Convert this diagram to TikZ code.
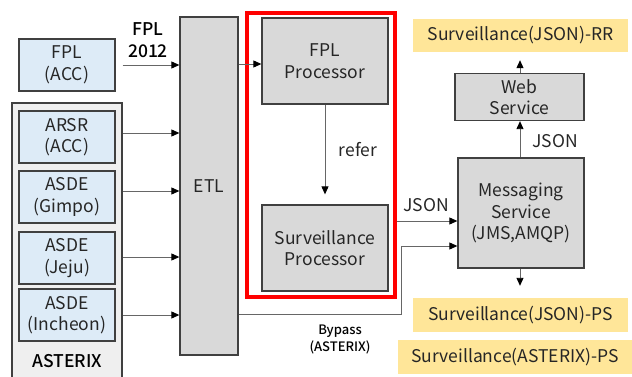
\documentclass[tikz,border=0pt]{standalone}
\usepackage{fontspec}
\setmainfont{Noto Sans CJK KR}
\newfontfamily\heavyfont{Noto Sans CJK KR Medium}
\usetikzlibrary{arrows.meta}
\definecolor{boxblue}{HTML}{DDEBF7}
\definecolor{boxgrey}{HTML}{D9D9D9}
\definecolor{groupgrey}{HTML}{EFEFEF}
\definecolor{outyellow}{HTML}{FFE699}
\definecolor{edge}{HTML}{404040}
\definecolor{wire}{HTML}{666666}
\begin{document}
\begin{tikzpicture}[x=1pt,y=-1pt,
  txt/.style={font=\fontsize{17.5}{21.5}\selectfont, align=center, inner sep=0pt, text=black!85},
  src/.style={txt, draw=edge, line width=1.3pt, fill=boxblue, minimum width=96pt, minimum height=52pt},
  proc/.style={txt, draw=edge, line width=1.3pt, fill=boxgrey},
  outbox/.style={txt, fill=outyellow, minimum height=34pt},
  lbl/.style={txt},
  strong/.style={txt, text=black, font=\heavyfont\fontsize{17.5}{21.5}\selectfont},
  arr/.style={draw=wire, line width=0.9pt, -{Triangle[length=8pt,width=7pt,color=black]}}]
\useasboundingbox (0,0) rectangle (632,376);

% ASTERIX sources group
\node[draw=edge, line width=1.3pt, fill=groupgrey, minimum width=110pt, minimum height=280pt, inner sep=0pt] (grp) at (67,243) {};
\node[strong] (astx) at (67,361) {ASTERIX};

% source boxes
\node[src] (fplacc) at (67,65) {FPL\\(ACC)};
\node[src] (arsr) at (67,137) {ARSR\\(ACC)};
\node[src] (gimpo) at (67,197) {ASDE\\(Gimpo)};
\node[src] (jeju) at (67,258) {ASDE\\(Jeju)};
\node[src] (inch) at (67,315) {ASDE\\(Incheon)};

% ETL
\node[proc, minimum width=58pt, minimum height=338pt] (etl) at (209,186) {ETL};
\node[strong] (fpl2012) at (148,40) {FPL\\2012};

% processors inside the red frame
\node[draw=red, line width=3.5pt, minimum width=148pt, minimum height=284pt, inner sep=0pt] (core) at (321,155) {};
\node[proc, minimum width=126pt, minimum height=86pt] (fplp) at (325,61) {FPL\\Processor};
\node[proc, minimum width=126pt, minimum height=86pt] (survp) at (325,248) {Surveillance\\Processor};
\node[lbl] (refer) at (358,150) {refer};

% services
\node[proc, minimum width=126pt, minimum height=110pt] (msg) at (521,213) {Messaging\\Service\\(JMS,AMQP)};
\node[proc, minimum width=129pt, minimum height=47pt] (web) at (519.5,97) {Web\\Service};

% outputs
\node[outbox, minimum width=215pt, minimum height=33pt] (rr) at (520.5,35.5) {Surveillance(JSON)-RR};
\node[outbox, minimum width=215pt] (ps) at (520.5,315) {Surveillance(JSON)-PS};
\node[outbox, minimum width=234pt] (aps) at (515,357) {Surveillance(ASTERIX)-PS};

% labels on connectors
\node[lbl] (json1) at (426,205) {JSON};
\node[lbl] (json2) at (555,141) {JSON};
\node[strong, font=\heavyfont\fontsize{13}{17}\selectfont] (bypass) at (340,339) {Bypass\\(ASTERIX)};

% connectors into ETL
\draw[arr] (grp.east |- fplacc) -- (etl.west |- fplacc);
\draw[arr] (grp.east |- 0,133) -- (etl.west |- 0,133);
\draw[arr] (grp.east |- 0,191) -- (etl.west |- 0,191);
\draw[arr] (grp.east |- 0,257) -- (etl.west |- 0,257);
\draw[arr] (grp.east |- 0,315) -- (etl.west |- 0,315);

% ETL to processors
\draw[arr] (etl.east |- 0,64) -- (fplp.west |- 0,64);
\draw[arr, shorten >=10pt] (fplp.south) -- (survp.north);

% to messaging
\draw[arr] (core.east |- 0,221) -- (msg.west |- 0,221);
\coordinate (bend) at (401,314);
\draw[arr] (etl.east |- bend) -- (bend) -- (bend |- 0,246) -- (msg.west |- 0,246);

% messaging outputs
\draw[arr] (msg.north -| 520,0) -- (web.south -| 520,0);
\draw[arr, shorten >=8pt] (web.north -| 520,0) -- (rr.south -| 520,0);
\draw[arr, shorten >=12pt] (msg.south -| 520,0) -- (ps.north -| 520,0);
\end{tikzpicture}
\end{document}
